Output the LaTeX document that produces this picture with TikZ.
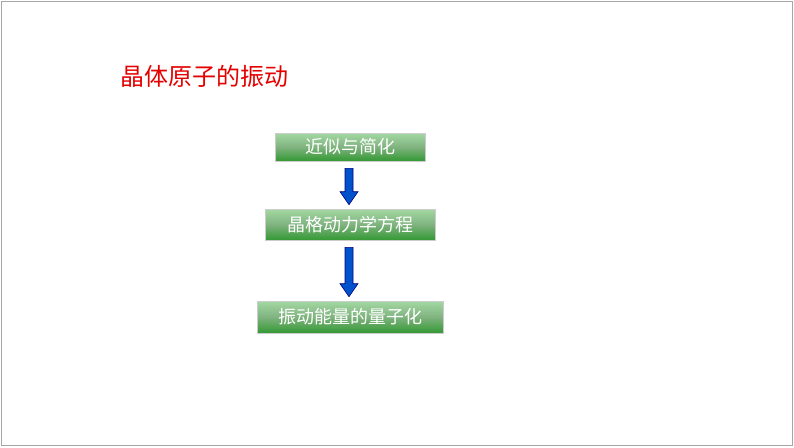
\documentclass[tikz,border=0pt]{standalone}
\usepackage{fontspec}
\newfontfamily\cjk{Noto Sans CJK SC}
\usetikzlibrary{calc}
\begin{document}
\begin{tikzpicture}[x=1pt,y=-1pt,
  gbox/.style={draw=white!80!black,line width=0.6pt,top color=green!25!white!85!black,bottom color=green!50!black!80,middle color=green!40!black!50!white,
    text=white,font=\cjk\fontsize{18}{18}\selectfont,inner sep=0pt,anchor=center},
  barrow/.style={fill=blue!60!cyan!80!black,draw=blue!50!black,line width=0.6pt}]
\fill[white] (0,0) rectangle (794,447);
\draw[black!35,line width=0.8pt] (1.5,1.5) rectangle (792.5,445.5);
\node[font=\cjk\fontsize{24}{24}\selectfont,text=red!90!black,anchor=west,inner sep=0pt] (t) at (120,76) {晶体原子的振动};
\node[gbox,minimum width=150,minimum height=28] (a) at (350,147) {近似与简化};
\node[gbox,minimum width=170,minimum height=31] (b) at (350,224.5) {晶格动力学方程};
\node[gbox,minimum width=186,minimum height=32] (c) at (350,317) {振动能量的量子化};
\foreach \s/\e in {a/b,b/c}{
  \path ($(\s.south)+(-1,7)$) coordinate (p) ($(\e.north)+(-1,-4)$) coordinate (q);
  \draw[barrow] ($(p)+(-4,0)$) -- ($(p)+(4,0)$) -- ($(q)+(4,-13)$) -- ($(q)+(9,-13)$) -- (q) -- ($(q)+(-9,-13)$) -- ($(q)+(-4,-13)$) -- cycle;
}
\end{tikzpicture}
\end{document}
